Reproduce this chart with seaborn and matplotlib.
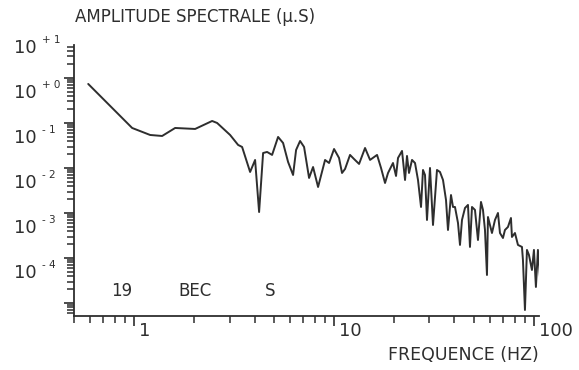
import matplotlib
matplotlib.use("Agg")
import matplotlib.pyplot as plt
import matplotlib.transforms as mtransforms
from matplotlib.ticker import LogLocator, NullFormatter
import numpy as np
import seaborn as sns

# spectre (fréquence en Hz, amplitude en micro-secondes)
freq = [0.589, 0.977, 1.202, 1.380, 1.603, 2.018, 2.455, 2.600, 3.020, 3.311,
        3.467, 3.802, 4.027, 4.217, 4.416, 4.624, 4.898, 5.248, 5.559, 5.888,
        6.237, 6.457, 6.761, 7.079, 7.499, 7.852, 8.318, 9.016, 9.441, 10.0,
        10.59, 10.96, 11.35, 12.02, 12.59, 13.34, 14.29, 15.14, 16.41, 17.18,
        17.99, 18.62, 19.72, 20.42, 20.89, 21.88, 22.65, 23.17, 23.71, 24.55,
        25.41, 26.30, 27.23, 27.86, 28.51, 29.17, 30.20, 31.26, 32.73, 33.88,
        35.08, 36.31, 37.15, 38.46, 39.36, 40.27, 41.69, 42.66, 43.65, 45.19,
        46.77, 47.86, 48.98, 50.70, 52.48, 54.33, 55.59, 56.89, 58.21, 58.88,
        61.66, 63.83, 66.07, 67.61, 69.98, 71.61, 74.13, 76.74, 77.62, 80.35,
        83.18, 87.10, 88.10, 90.16, 92.26, 94.41, 97.72, 100.0, 102.3, 104.7,
        107.2]
amp = [0.736, 0.0774, 0.0541, 0.0514, 0.0774, 0.0736, 0.1107, 0.100, 0.0541, 0.0325,
       0.0293, 0.00815, 0.01506, 0.00105, 0.0215, 0.0227, 0.0195, 0.0489, 0.0359, 0.0136,
       0.00699, 0.0251, 0.0398, 0.0293, 0.0060, 0.0105, 0.00378, 0.01506, 0.0129, 0.0264,
       0.0167, 0.00774, 0.0095, 0.0195, 0.0158, 0.0123, 0.0278, 0.0151, 0.0195, 0.0100,
       0.00464, 0.00774, 0.0129, 0.00664, 0.0167, 0.0239, 0.00541, 0.0185, 0.00774, 0.0151,
       0.0129, 0.00541, 0.00136, 0.00903, 0.00699, 0.000699, 0.0100, 0.000541, 0.00903, 0.00815,
       0.00541, 0.00195, 0.000419, 0.00251, 0.00136, 0.00136, 0.0006, 0.000195, 0.000699, 0.00129,
       0.00151, 0.000176, 0.00136, 0.00117, 0.000251, 0.00176, 0.00117, 0.000419, 4.19e-5, 0.000815,
       0.000359, 0.000699, 0.001, 0.000359, 0.000278, 0.000419, 0.000489, 0.000774, 0.000293, 0.000359,
       0.000195, 0.000176, 9.03e-5, 6.99e-6, 0.000151, 0.000117, 5.41e-5, 0.000151, 2.27e-5, 0.000151,
       3.78e-5]

y_decades = [1e1, 1e0, 1e-1, 1e-2, 1e-3, 1e-4]
y_exposants = ["+ 1", "+ 0", "- 1", "- 2", "- 3", "- 4"]
x_decades = [1, 10, 100]
x_etiquettes = ["1", "10", "100"]
marques = ["19", "BEC", "S"]
marques_x = [0.103, 0.260, 0.421]

sns.set_style("ticks")
plt.rcParams["font.family"] = ["DejaVu Sans"]
ink = "#2e2e2e"

fig = plt.figure(figsize=(5.79, 3.70), dpi=100)
ax = fig.add_axes([74 / 579, 54 / 370, 465 / 579, 271 / 370])
sns.lineplot(x=freq, y=amp, ax=ax, color=ink, linewidth=1.4, estimator=None, sort=False)
ax.set_xscale("log")
ax.set_yscale("log")
ax.set_xlim(0.5, 106)
ax.set_ylim(5.14e-6, 5.4)

for s in ["top", "right"]:
    ax.spines[s].set_visible(False)
for s in ["left", "bottom"]:
    ax.spines[s].set_color(ink)
    ax.spines[s].set_linewidth(1.3)

ax.xaxis.set_major_locator(LogLocator(base=10, numticks=10))
ax.xaxis.set_minor_locator(LogLocator(base=10, subs=np.arange(2, 10), numticks=100))
ax.yaxis.set_major_locator(LogLocator(base=10, numticks=20))
ax.yaxis.set_minor_locator(LogLocator(base=10, subs=np.arange(2, 10), numticks=100))
ax.xaxis.set_minor_formatter(NullFormatter())
ax.yaxis.set_minor_formatter(NullFormatter())
ax.tick_params(which="both", left=True, bottom=True, top=False, right=False)
ax.tick_params(which="major", direction="out", length=7, width=1.2, colors=ink,
               labelleft=False, labelbottom=False)
ax.tick_params(which="minor", direction="out", length=5, width=1.1, colors=ink)
ax.set_xlabel("")
ax.set_ylabel("")

# étiquettes de l'axe vertical, décalées comme sur le traceur
ty = mtransforms.blended_transform_factory(ax.transAxes, ax.transData)
for d, e in zip(y_decades, y_exposants):
    ax.text(0, d, "10", ha="right", va="center", fontsize=13, color=ink, clip_on=False,
            transform=mtransforms.offset_copy(ty, fig=fig, x=-37, y=-15, units="dots"))
    ax.text(0, d, e, ha="left", va="center", fontsize=7.5, color=ink, clip_on=False,
            transform=mtransforms.offset_copy(ty, fig=fig, x=-32, y=-7, units="dots"))

tx = mtransforms.blended_transform_factory(ax.transData, ax.transAxes)
for d, t in zip(x_decades, x_etiquettes):
    ax.text(d, 0, t, ha="left", va="center", fontsize=13, color=ink, clip_on=False,
            transform=mtransforms.offset_copy(tx, fig=fig, x=5, y=-15, units="dots"))

for t, xm in zip(marques, marques_x):
    ax.text(xm, 0.092, t, ha="center", va="center", fontsize=12, color=ink,
            transform=ax.transAxes)

fig.text(75 / 579, 1 - 17 / 370, "AMPLITUDE SPECTRALE (\u03bc.S)", ha="left", va="center",
         fontsize=12, color=ink)
fig.text(463 / 579, 1 - 355 / 370, "FREQUENCE (HZ)", ha="center", va="center",
         fontsize=12.5, color=ink)

fig.savefig("out.png", dpi=100, facecolor="white")
